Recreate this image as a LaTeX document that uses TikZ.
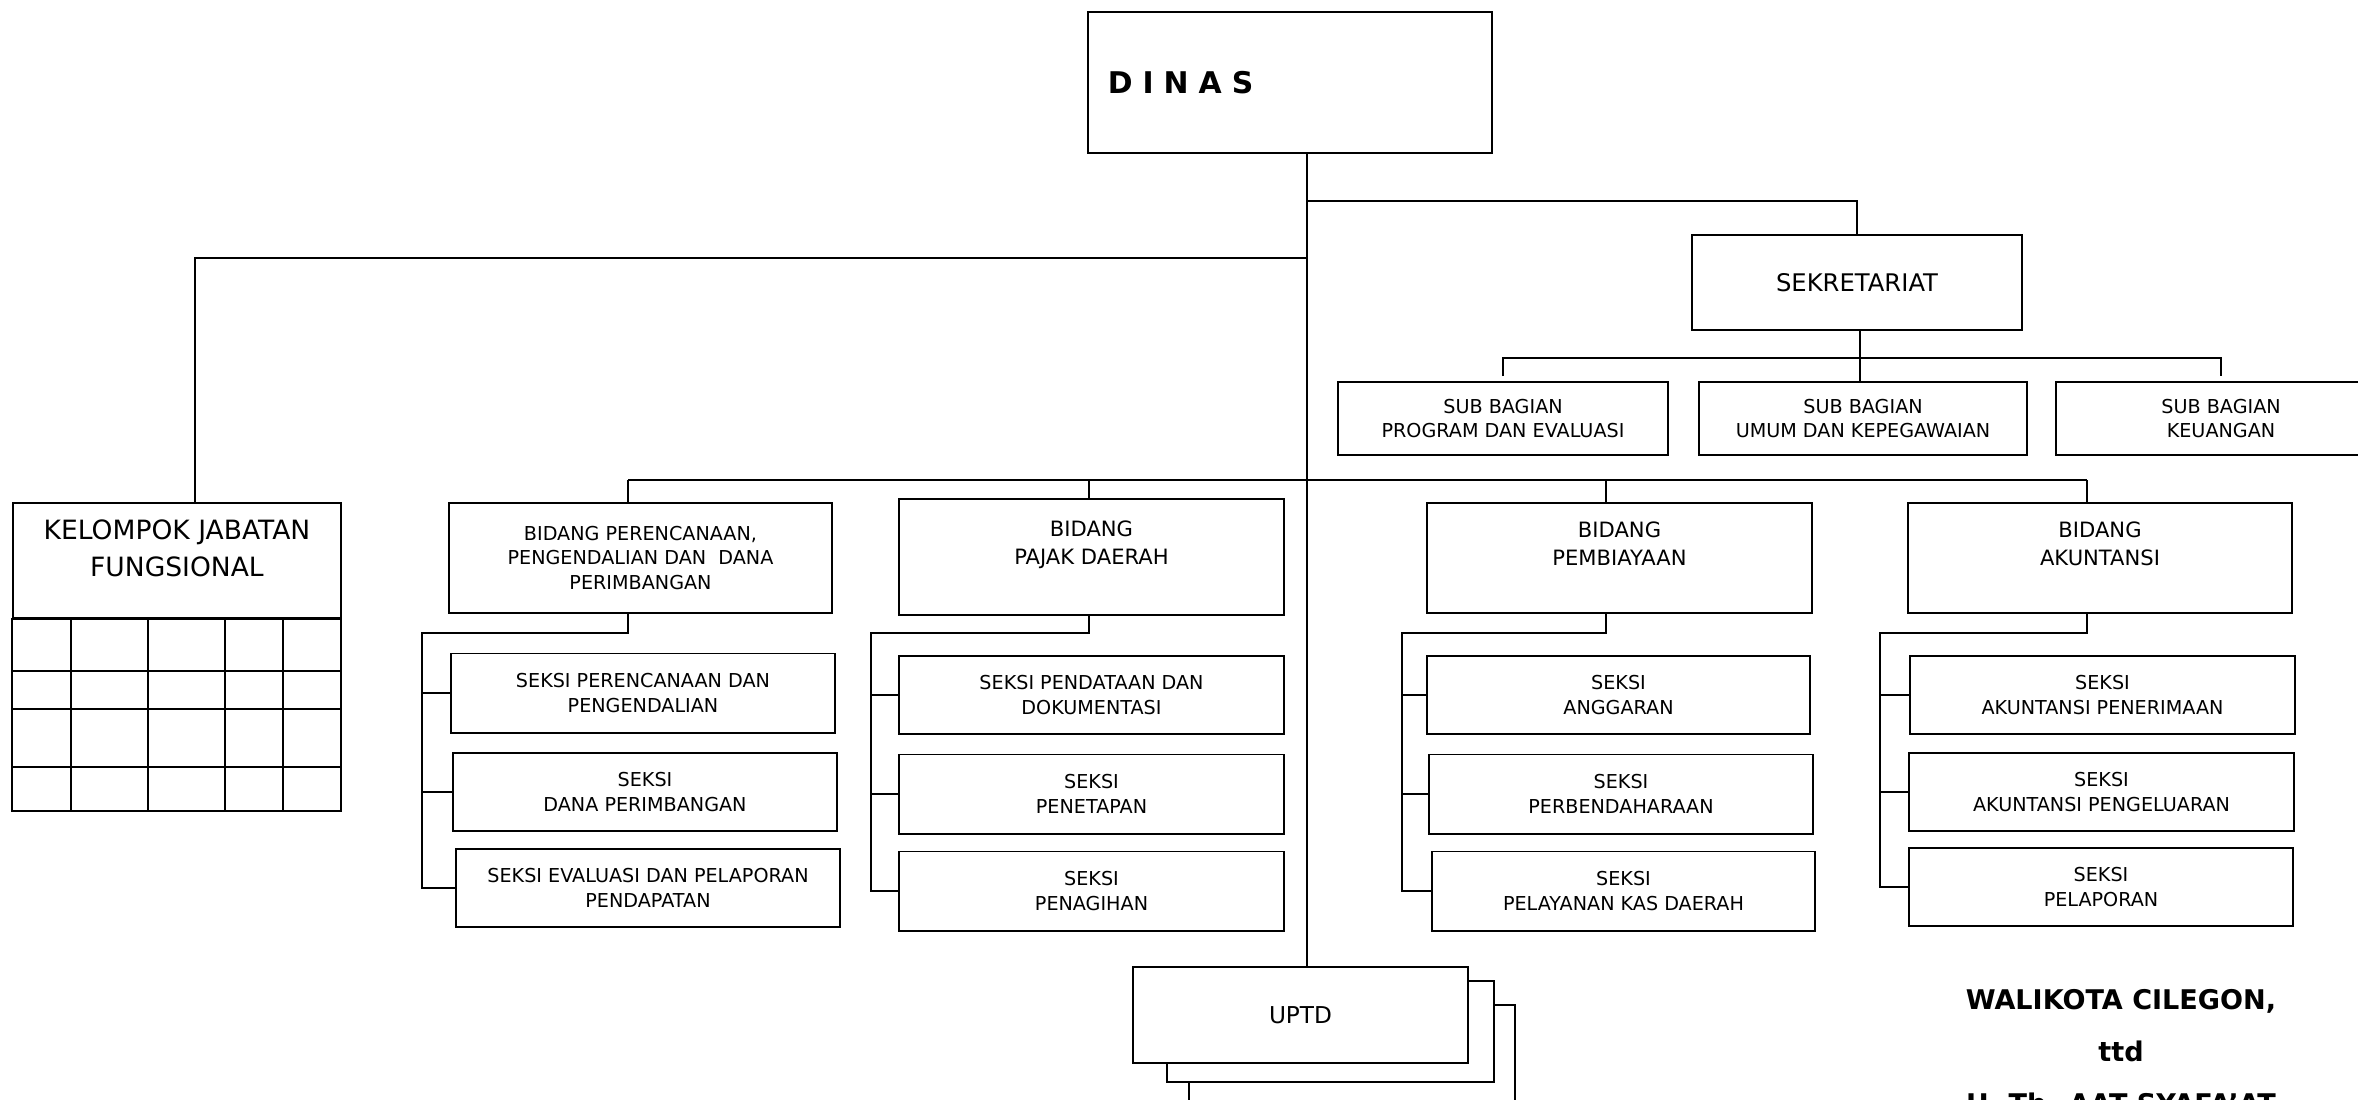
\documentclass[tikz,border=0pt]{standalone}
\usepackage{fontspec}
\setmainfont{DejaVu Sans}
\usetikzlibrary{positioning, calc}

\begin{document}
\begin{tikzpicture}[x=0.01cm, y=-0.01cm, line width=0.55pt,
    box/.style={draw, fill=white, align=center, inner sep=0pt},
    seksi/.style={box, minimum width=3.84cm, minimum height=0.78cm, font=\fontsize{5.45}{7.1}\selectfont},
    subbag/.style={box, minimum width=3.3cm, minimum height=0.73cm, font=\fontsize{5.45}{7.1}\selectfont},
    bidang/.style={box, minimum width=3.84cm, minimum height=1.1cm, font=\fontsize{6}{8}\selectfont}]
    \useasboundingbox (0,0) rectangle (2358,1099);

    % Top
    \node[box, text width=3.64cm, inner xsep=0.2cm, minimum height=1.41cm, align=left,
          font=\fontsize{8.5}{10}\selectfont\bfseries] (dinas) at (1290,82.5) {D I N A S};

    % Sekretariat
    \node[box, minimum width=3.3cm, minimum height=0.95cm, font=\fontsize{6.9}{8}\selectfont] (sekre) at (1857,282.5) {SEKRETARIAT};
    \node[subbag] (sub1) at (1503,418.5) {SUB BAGIAN\\PROGRAM DAN EVALUASI};
    \node[subbag, minimum width=3.28cm] (sub2) at (1863,418.5) {SUB BAGIAN\\UMUM DAN KEPEGAWAIAN};
    \node[subbag] (sub3) at (2221,418.5) {SUB BAGIAN\\KEUANGAN};

    % Kelompok jabatan fungsional
    \node[box, minimum width=3.28cm, minimum height=1.15cm, font=\fontsize{7.55}{10.5}\selectfont] (kjf) at (177,560.5) {KELOMPOK JABATAN\\FUNGSIONAL\\[-3.7pt]~};
    \draw (kjf.south west) rectangle (341,811);
    \foreach \x in {71,148,225,283}
        \draw (\x,618) -- (\x,811);
    \foreach \y in {671,709,767}
        \draw (13,\y) -- (341,\y);

    % Bidang
    \node[bidang, minimum width=3.83cm, font=\fontsize{5.45}{7.1}\selectfont] (bid1) at (640.5,558) {BIDANG PERENCANAAN,\\PENGENDALIAN DAN \ DANA\\PERIMBANGAN};
    \node[bidang, minimum width=3.85cm, minimum height=1.16cm] (bid2) at (1091.5,557) {BIDANG\\PAJAK DAERAH\\~};
    \node[bidang, minimum width=3.85cm] (bid3) at (1619.5,558) {BIDANG\\PEMBIAYAAN\\~};
    \node[bidang] (bid4) at (2100,558) {BIDANG\\AKUNTANSI\\~};

    % Seksi
    \node[seksi, minimum height=0.79cm] (s11) at (643,693) {SEKSI PERENCANAAN DAN\\PENGENDALIAN};
    \node[seksi] (s12) at (645,792) {SEKSI\\DANA PERIMBANGAN};
    \node[seksi] (s13) at (648,888) {SEKSI EVALUASI DAN PELAPORAN\\PENDAPATAN};

    \node[seksi, minimum width=3.85cm] (s21) at (1091.5,695) {SEKSI PENDATAAN DAN\\DOKUMENTASI};
    \node[seksi, minimum width=3.85cm, minimum height=0.79cm] (s22) at (1091.5,794) {SEKSI\\PENETAPAN};
    \node[seksi, minimum width=3.85cm, minimum height=0.79cm] (s23) at (1091.5,891) {SEKSI\\PENAGIHAN};

    \node[seksi, minimum width=3.83cm] (s31) at (1618.5,695) {SEKSI\\ANGGARAN};
    \node[seksi, minimum height=0.79cm] (s32) at (1621,794) {SEKSI\\PERBENDAHARAAN};
    \node[seksi, minimum width=3.83cm, minimum height=0.79cm] (s33) at (1623.5,891) {SEKSI\\PELAYANAN KAS DAERAH};

    \node[seksi, minimum width=3.85cm] (s41) at (2102.5,695) {SEKSI\\AKUNTANSI PENERIMAAN};
    \node[seksi, minimum width=3.85cm] (s42) at (2101.5,792) {SEKSI\\AKUNTANSI PENGELUARAN};
    \node[seksi] (s43) at (2101,887) {SEKSI\\PELAPORAN};

    % UPTD
    \draw[fill=white] (1189,1005) rectangle (1515,1110);
    \draw[fill=white] (1167,981) rectangle (1494,1082);
    \node[box, minimum width=3.35cm, minimum height=0.96cm, font=\fontsize{6.6}{8}\selectfont] (uptd) at (1300.5,1015) {UPTD};

    % Trunk
    \coordinate (trunk) at (1307,0);
    \coordinate (jsek) at (1307,201);
    \coordinate (jkel) at (1307,258);
    \draw (dinas.south -| trunk) -- (uptd.north -| trunk);
    \draw (jsek) -| (sekre.north);
    \draw (jkel) -| ([xshift=0.18cm]kjf.north);

    % Sub bagian
    \coordinate (sbus) at (1860,358);
    \draw (sekre.south -| sbus) -- (sub2.north -| sbus);
    \draw ([yshift=1.4pt]sub1.north) |- (sbus) -| ([yshift=1.4pt]sub3.north);

    % Bidang bus
    \coordinate (d1) at (628,480);
    \coordinate (d2) at (1089,480);
    \coordinate (d3) at (1606,480);
    \coordinate (d4) at (2087,480);
    \coordinate (r1) at (422,633);
    \coordinate (r2) at (871,633);
    \coordinate (r3) at (1402,633);
    \coordinate (r4) at (1880,633);
    \draw (d1) -- (d4);
    \foreach \i in {1,...,4} {
        \draw (d\i) -- (d\i |- bid\i.north);
        \draw (d\i |- bid\i.south) |- (r\i) |- (s\i3.west);
        \draw (r\i) |- (s\i1.west);
        \draw (r\i) |- (s\i2.west);
    }

    % Signature
    \node[anchor=north, align=center, inner sep=0pt, font=\fontsize{7.7}{14.8}\selectfont\bfseries] (ttd) at (2121,988) {WALIKOTA CILEGON,\\ttd\\H. Tb. AAT SYAFA'AT};
\end{tikzpicture}
\end{document}
